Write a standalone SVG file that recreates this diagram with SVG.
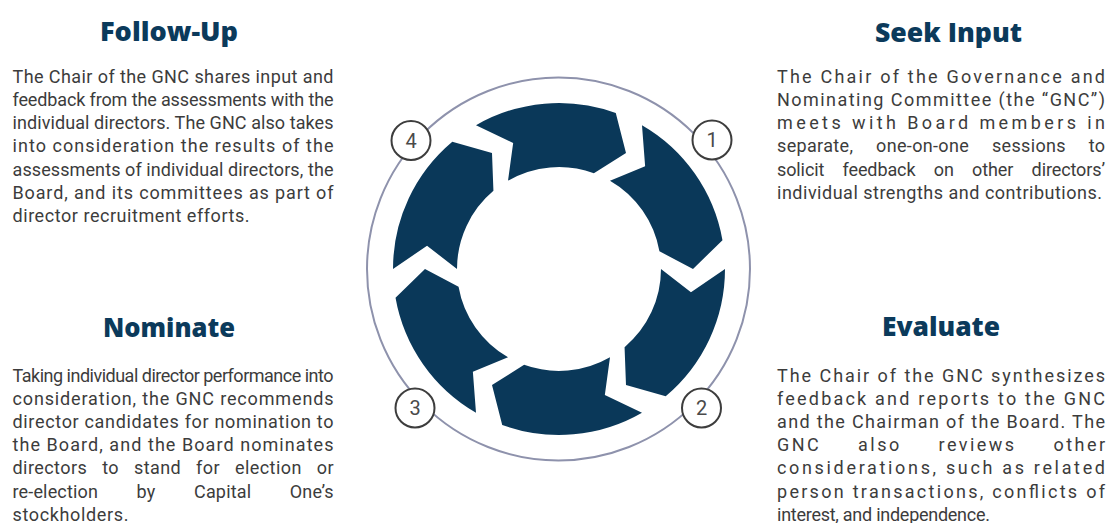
<svg xmlns="http://www.w3.org/2000/svg" width="1109" height="523" viewBox="0 0 1109 523">
<style>
.h{font-family:"Open Sans",Roboto,"Liberation Sans",sans-serif;font-weight:800;font-size:27px;fill:#0b3a5b;text-anchor:middle}
.b{font-family:Roboto,"Liberation Sans",sans-serif;font-size:18px;fill:#3c3c3c}
.num{fill:#fff;stroke:#3d3d3d;stroke-width:2}
.nt{font-family:Roboto,"Liberation Sans",sans-serif;font-size:20px;fill:#4a4a4a;text-anchor:middle}
.seg{fill:#0a3859}
</style>
<defs>
<path id="seg" d="M476,125.24 A166,166 0 0 1 615.77,113.01 L626,152.95 L593.88,173.15 A102,102 0 0 0 508,180.67 L513.17,143.08 Z"/>
</defs>
<rect width="1109" height="523" fill="#fff"/>
<g id="ring">
<circle cx="558.5" cy="269" r="191.5" fill="none" stroke="#8e92ac" stroke-width="2"/>
<g class="seg">
<use href="#seg"/>
<use href="#seg" transform="rotate(60 559 269)"/>
<use href="#seg" transform="rotate(120 559 269)"/>
<use href="#seg" transform="rotate(180 559 269)"/>
<use href="#seg" transform="rotate(240 559 269)"/>
<use href="#seg" transform="rotate(300 559 269)"/>
</g>
</g>
<g id="connectors"></g>
<g id="step1">
<circle class="num" cx="712" cy="140" r="19.5"/>
<text class="nt" x="712" y="147">1</text>
<text class="h" x="948.5" y="41.5" textLength="147" lengthAdjust="spacingAndGlyphs">Seek Input</text>
<g class="b">
<text x="777" y="82.5" textLength="328" lengthAdjust="spacing">The Chair of the Governance and</text>
<text x="777" y="105.8" textLength="328" lengthAdjust="spacing">Nominating Committee (the “GNC”)</text>
<text x="777" y="129.1" textLength="328" lengthAdjust="spacing">meets with Board members in</text>
<text x="777" y="152.4" textLength="328" lengthAdjust="spacing" word-spacing="18px">separate, one-on-one sessions to</text>
<text x="777" y="175.7" textLength="328" lengthAdjust="spacing" word-spacing="14px">solicit feedback on other directors’</text>
<text x="777" y="199" textLength="325" lengthAdjust="spacing">individual strengths and contributions.</text>
</g>
</g>
<g id="step2">
<circle class="num" cx="701.5" cy="408" r="19.5"/>
<text class="nt" x="701.5" y="415">2</text>
<text class="h" x="941" y="336" textLength="118" lengthAdjust="spacingAndGlyphs">Evaluate</text>
<g class="b">
<text x="777" y="381.5" textLength="328" lengthAdjust="spacing">The Chair of the GNC synthesizes</text>
<text x="777" y="404.7" textLength="328" lengthAdjust="spacing">feedback and reports to the GNC</text>
<text x="777" y="427.9" textLength="328" lengthAdjust="spacing">and the Chairman of the Board. The</text>
<text x="777" y="451.1" textLength="328" lengthAdjust="spacing" word-spacing="30px">GNC also reviews other</text>
<text x="777" y="474.3" textLength="328" lengthAdjust="spacing">considerations, such as related</text>
<text x="777" y="497.5" textLength="328" lengthAdjust="spacing">person transactions, conflicts of</text>
<text x="777" y="520.5" textLength="213" lengthAdjust="spacing">interest, and independence.</text>
</g>
</g>
<g id="step3">
<circle class="num" cx="415" cy="408" r="19.5"/>
<text class="nt" x="415" y="415">3</text>
<text class="h" x="169" y="336.5" textLength="132" lengthAdjust="spacingAndGlyphs">Nominate</text>
<g class="b">
<text x="12.5" y="381.5" textLength="321" lengthAdjust="spacing">Taking individual director performance into</text>
<text x="12.5" y="404.7" textLength="321" lengthAdjust="spacing">consideration, the GNC recommends</text>
<text x="12.5" y="427.9" textLength="321" lengthAdjust="spacing">director candidates for nomination to</text>
<text x="12.5" y="451.1" textLength="321" lengthAdjust="spacing">the Board, and the Board nominates</text>
<text x="12.5" y="474.3" textLength="321" lengthAdjust="spacing" word-spacing="10px">directors to stand for election or</text>
<text x="12.5" y="497.5" textLength="321" lengthAdjust="spacing" word-spacing="34px">re-election by Capital One’s</text>
<text x="12.5" y="520.5" textLength="116" lengthAdjust="spacing">stockholders.</text>
</g>
</g>
<g id="step4">
<circle class="num" cx="411" cy="140.5" r="19.5"/>
<text class="nt" x="411" y="147.5">4</text>
<text class="h" x="169" y="41" textLength="138" lengthAdjust="spacingAndGlyphs">Follow-Up</text>
<g class="b">
<text x="12.5" y="82.5" textLength="321" lengthAdjust="spacing">The Chair of the GNC shares input and</text>
<text x="12.5" y="105.8" textLength="321" lengthAdjust="spacing">feedback from the assessments with the</text>
<text x="12.5" y="129.1" textLength="321" lengthAdjust="spacing">individual directors. The GNC also takes</text>
<text x="12.5" y="152.4" textLength="321" lengthAdjust="spacing">into consideration the results of the</text>
<text x="12.5" y="175.7" textLength="321" lengthAdjust="spacing">assessments of individual directors, the</text>
<text x="12.5" y="199" textLength="321" lengthAdjust="spacing">Board, and its committees as part of</text>
<text x="12.5" y="222" textLength="237" lengthAdjust="spacing">director recruitment efforts.</text>
</g>
</g>
</svg>
